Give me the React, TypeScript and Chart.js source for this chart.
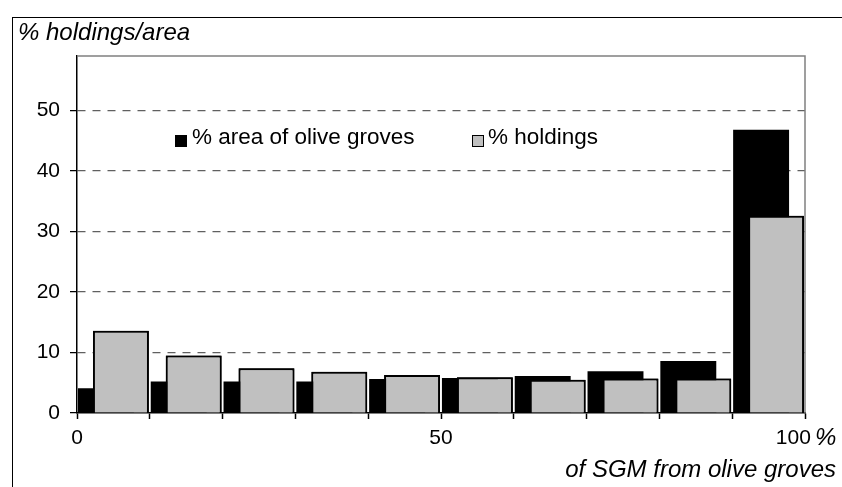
import React, { useEffect, useRef } from "react";
import { Chart, registerables } from "chart.js";

Chart.register(...registerables);

// ---- data ----
const bins = ["0-10", "10-20", "20-30", "30-40", "40-50", "50-60", "60-70", "70-80", "80-90", "90-100"];
const areaShare = [4.1, 5.2, 5.2, 5.2, 5.6, 5.8, 6.1, 6.9, 8.6, 46.8];
const holdingsShare = [13.6, 9.5, 7.4, 6.8, 6.3, 5.9, 5.5, 5.7, 5.7, 32.6];
const yTickValues = [0, 10, 20, 30, 40, 50];
const xTickLabels: Record<number, string> = { 0: "0", 50: "50", 100: "100\u00a0\u00a0\u00a0\u00a0" };
const seriesNames = ["% area of olive groves", "% holdings"];

const FONT = "'Liberation Sans', Arial, sans-serif";

const plotBorder = {
  id: "plotBorder",
  beforeDatasetsDraw(chart: any) {
    const { ctx, chartArea: a } = chart;
    ctx.save();
    ctx.strokeStyle = "#808080";
    ctx.lineWidth = 1.5;
    ctx.beginPath();
    ctx.moveTo(a.left, a.top);
    ctx.lineTo(a.right, a.top);
    ctx.lineTo(a.right, a.bottom);
    ctx.stroke();
    ctx.restore();
  },
};

const holdingsOnTop = {
  id: "holdingsOnTop",
  afterDatasetsDraw(chart: any) {
    const meta = chart.getDatasetMeta(1);
    if (meta && !meta.hidden) meta.controller.draw();
  },
};

export default function App() {
  const ref = useRef<HTMLCanvasElement | null>(null);

  useEffect(() => {
    if (!ref.current) return;
    Chart.defaults.font.family = FONT;
    Chart.defaults.font.size = 21;
    Chart.defaults.color = "#000";
    const chart = new Chart(ref.current, {
      type: "bar",
      data: {
        labels: bins,
        datasets: [
          {
            label: seriesNames[0],
            data: areaShare,
            backgroundColor: "#000000",
            borderWidth: 0,
            categoryPercentage: 0.412,
            barPercentage: 3.73,
          },
          {
            label: seriesNames[1],
            data: holdingsShare,
            backgroundColor: "#c0c0c0",
            borderColor: "#000000",
            borderWidth: 2,
            categoryPercentage: 0.412,
            barPercentage: 3.73,
          },
        ],
      },
      options: {
        animation: false,
        responsive: false,
        events: [],
        layout: { padding: { left: 0, top: 56, right: 37, bottom: 0 } },
        plugins: { legend: { display: false }, tooltip: { enabled: false } },
        scales: {
          x: { type: "category", display: false, offset: true },
          x2: {
            type: "linear",
            position: "bottom",
            min: 0,
            max: 100,
            offset: false,
            afterFit: (s: any) => {
              s.height = 74;
            },
            ticks: {
              stepSize: 10,
              autoSkip: false,
              maxRotation: 0,
              padding: 7,
              font: { size: 21, family: FONT },
              color: "#000",
              callback: (v: any) => (xTickLabels[v] !== undefined ? xTickLabels[v] : ""),
            },
            grid: {
              offset: false,
              drawOnChartArea: false,
              drawTicks: true,
              tickLength: 6,
              tickColor: "#000",
              tickWidth: 1.5,
            },
            border: { display: true, color: "#000", width: 1.5 },
          },
          y: {
            type: "linear",
            min: 0,
            max: 59,
            afterFit: (s: any) => {
              s.width = 77;
            },
            afterBuildTicks: (s: any) => {
              s.ticks = yTickValues.map((v) => ({ value: v }));
            },
            ticks: {
              stepSize: 10,
              padding: 10,
              font: { size: 21, family: FONT },
              color: "#000",
            },
            grid: {
              color: (c: any) => (c.tick && c.tick.value === 0 ? "rgba(0,0,0,0)" : "#606060"),
              lineWidth: 1.2,
              tickLength: 7,
              tickColor: "#000",
              tickWidth: 1.2,
              tickBorderDash: [1, 0],
            },
            border: { display: true, color: "#000", width: 1.5, dash: [8, 7] },
          },
        },
      },
      plugins: [plotBorder, holdingsOnTop],
    });
    return () => chart.destroy();
  }, []);

  const text = { position: "absolute" as const, fontFamily: FONT, color: "#000", whiteSpace: "nowrap" as const };
  const title = { ...text, fontSize: 24, lineHeight: "29px", fontStyle: "italic" as const };
  const legendText = { ...text, fontSize: 22.5, lineHeight: "27px" };

  return (
    <div style={{ position: "absolute", left: 0, top: 0, width: 842, height: 487, overflow: "hidden", background: "#fff" }}>
      <div
        style={{
          position: "absolute",
          left: 12,
          top: 17,
          width: 840,
          height: 480,
          borderLeft: "1.5px solid #000",
          borderTop: "1.5px solid #000",
        }}
      />
      <canvas ref={ref} width={842} height={487} style={{ position: "absolute", left: 0, top: 0, width: 842, height: 487 }} />
      <div style={{ ...title, left: 18, top: 17 }}>% holdings/area</div>

      <div style={{ position: "absolute", left: 175, top: 135, width: 12, height: 12, background: "#000" }} />
      <div style={{ ...legendText, left: 192, top: 123 }}>{seriesNames[0]}</div>
      <div
        style={{
          position: "absolute",
          left: 472,
          top: 135,
          width: 12,
          height: 12,
          boxSizing: "border-box",
          background: "#c0c0c0",
          border: "1px solid #000",
        }}
      />
      <div style={{ ...legendText, left: 488, top: 123 }}>{seriesNames[1]}</div>

      <div style={{ ...title, left: 815, top: 422 }}>%</div>
      <div style={{ ...title, right: 6, top: 454 }}>of SGM from olive groves</div>
    </div>
  );
}
